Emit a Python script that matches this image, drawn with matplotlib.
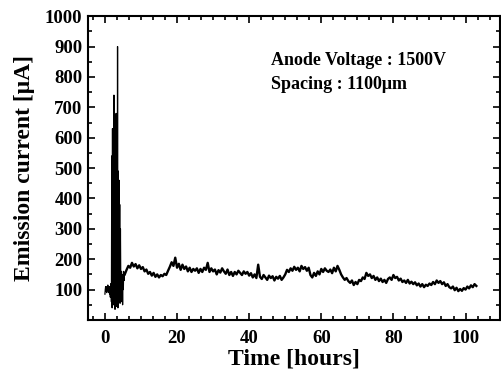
import numpy as np
import matplotlib
matplotlib.use("Agg")
import matplotlib.pyplot as plt
from matplotlib.ticker import MultipleLocator

plt.rcParams['font.family'] = ['Liberation Serif', 'DejaVu Serif']
plt.rcParams['font.weight'] = 'bold'

# start-up region, 0 - 5.5 h sampled every 0.1 h
spike_start = 0.0
spike_step = 0.1
spike_current = [85, 100, 110, 95, 105, 90, 110, 100, 115, 95,
                 105, 90, 110, 85, 95, 75, 100, 120, 60, 540,
                 40, 630, 80, 460, 50, 740, 60, 500, 35, 470,
                 90, 680, 45, 480, 70, 900, 40, 490, 60, 460,
                 100, 380, 55, 300, 120, 60, 160, 80, 140, 50,
                 150, 100, 160, 130, 155, 150]

# stable region, 6 - 103 h sampled every 0.5 h
stable_start = 6.0
stable_step = 0.5
stable_current = [165, 178, 172, 188, 176, 184, 170, 180, 168, 174,
                  160, 166, 152, 158, 146, 155, 142, 150, 140, 148,
                  144, 152, 148, 162, 175, 190, 178, 205, 172, 185,
                  165, 182, 168, 176, 160, 172, 158, 168, 162, 170,
                  155, 168, 158, 172, 165, 188, 158, 170, 160, 166,
                  150, 164, 156, 170, 160, 152, 166, 148, 158, 145,
                  158, 150, 162, 155, 148, 160, 152, 158, 146, 154,
                  140, 150, 138, 182, 142, 135, 148, 140, 132, 146,
                  138, 144, 130, 142, 136, 145, 132, 140, 150, 165,
                  158, 170, 162, 175, 165, 172, 160, 178, 168, 174,
                  162, 172, 148, 140, 155, 145, 160, 150, 168, 158,
                  170, 162, 158, 166, 154, 172, 160, 178, 165, 150,
                  140, 132, 138, 128, 122, 130, 115, 125, 118, 132,
                  128, 140, 135, 155, 145, 150, 138, 145, 132, 140,
                  128, 136, 125, 132, 122, 135, 140, 132, 148, 138,
                  142, 130, 136, 125, 130, 122, 132, 120, 126, 118,
                  124, 114, 120, 110, 118, 108, 116, 112, 120, 115,
                  125, 118, 130, 122, 128, 118, 124, 112, 118, 108,
                  104, 110, 98, 106, 95, 102, 96, 105, 100, 110,
                  104, 114, 108, 118, 112]

x_ticks = [0, 20, 40, 60, 80, 100]
y_ticks = [100, 200, 300, 400, 500, 600, 700, 800, 900, 1000]

t1 = spike_start + spike_step * np.arange(len(spike_current))
t2 = stable_start + stable_step * np.arange(len(stable_current))

fig = plt.figure(figsize=(5.01, 3.76), dpi=100)
ax = fig.add_axes([0.1756, 0.149, 0.822, 0.808])

# thin line through the spikes, heavier trace for the noisy plateau
ax.plot(t1, spike_current, color='black', lw=0.9)
ax.plot(np.concatenate([t1[-1:], t2]), [spike_current[-1]] + stable_current,
        color='black', lw=1.7)

ax.set_xlim(-4.7, 109.5)
ax.set_ylim(0, 1000)
ax.set_xticks(x_ticks)
ax.set_yticks(y_ticks)
ax.xaxis.set_minor_locator(MultipleLocator(20 / 6))
ax.yaxis.set_minor_locator(MultipleLocator(50))

ax.tick_params(which='both', direction='in', top=True, right=True, width=1.2)
ax.tick_params(which='major', length=5, labelsize=13.5)
ax.tick_params(axis='x', which='major', pad=7)
ax.tick_params(axis='y', which='major', pad=4)
ax.tick_params(which='minor', length=3)
for lab in ax.get_xticklabels() + ax.get_yticklabels():
    lab.set_fontweight('bold')

for s in ax.spines.values():
    s.set_linewidth(1.5)

ax.set_xlabel('Time [hours]', fontsize=17, fontweight='bold', labelpad=1)
ax.set_ylabel('Emission current [\u03bcA]', fontsize=17, fontweight='bold', labelpad=7)

fig.text(271 / 501, 1 - 65 / 376, 'Anode Voltage : 1500V', fontsize=13,
         fontweight='bold', ha='left', va='baseline')
fig.text(271 / 501, 1 - 89 / 376, 'Spacing : 1100\u03bcm', fontsize=13,
         fontweight='bold', ha='left', va='baseline')

fig.savefig('out.png', dpi=100)
